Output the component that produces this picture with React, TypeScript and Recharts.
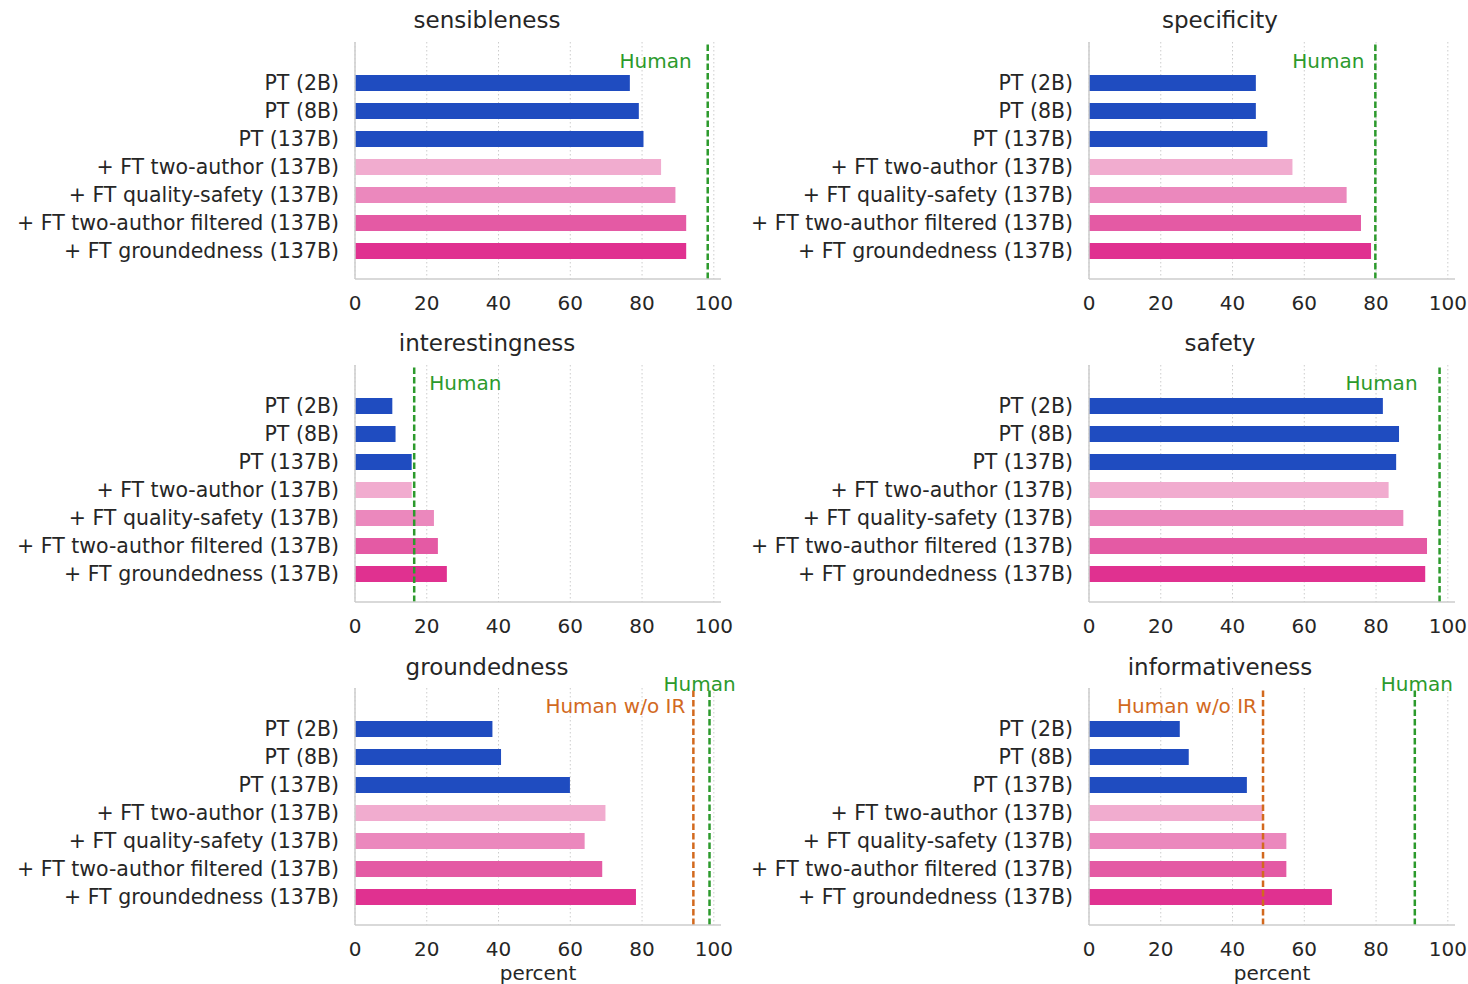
import { Bar, BarChart, CartesianGrid, Cell, ReferenceLine, XAxis, YAxis } from "recharts"

const models = [
  "PT (2B)",
  "PT (8B)",
  "PT (137B)",
  "+ FT two-author (137B)",
  "+ FT quality-safety (137B)",
  "+ FT two-author filtered (137B)",
  "+ FT groundedness (137B)",
]

const sensibleness = [76.6, 79.1, 80.4, 85.3, 89.3, 92.3, 92.3]
const specificity = [46.5, 46.5, 49.7, 56.7, 71.8, 75.8, 78.6]
const interestingness = [10.4, 11.3, 15.8, 15.8, 22.0, 23.1, 25.6]
const safety = [81.9, 86.4, 85.6, 83.5, 87.6, 94.2, 93.7]
const groundedness = [38.3, 40.7, 59.9, 69.8, 64.0, 68.9, 78.3]
const informativeness = [25.3, 27.8, 44.0, 48.4, 55.0, 55.0, 67.7]

const metricNames = ["sensibleness", "specificity", "interestingness", "safety", "groundedness", "informativeness"]
const metricValues = [sensibleness, specificity, interestingness, safety, groundedness, informativeness]
const humanScores = [98.3, 79.8, 16.5, 97.7, 98.8, 90.8]
const humanWithoutIR: (number | null)[] = [null, null, null, null, 94.3, 48.5]
const xTicks = [0, 20, 40, 60, 80, 100]
const X_MAX = 102

const barColors = ["#1f4cc0", "#1f4cc0", "#1f4cc0", "#f1accf", "#eb88bd", "#e45aa4", "#e03190"]
const FONT = "DejaVu Sans"
const TEXT = "#262626"
const GREEN = "#2c9a2c"
const ORANGE = "#d2691e"

type LabelPos = { anchor: "start" | "middle" | "end"; dx: number; dy: number }

// chart boxes and label placement, one per panel
const panels: {
  left: number
  top: number
  width: number
  right: number
  titleX: number
  titleY: number
  human: LabelPos
  noIR?: LabelPos
}[] = [
  { left: 0, top: 12, width: 740, right: 19, titleX: 487, titleY: 20, human: { anchor: "end", dx: -16, dy: 19 } },
  { left: 734, top: 12, width: 734, right: 13, titleX: 1220, titleY: 20, human: { anchor: "end", dx: -11, dy: 19 } },
  { left: 0, top: 335, width: 740, right: 19, titleX: 487, titleY: 343, human: { anchor: "start", dx: 15, dy: 18 } },
  { left: 734, top: 335, width: 734, right: 13, titleX: 1220, titleY: 343, human: { anchor: "end", dx: -22, dy: 18 } },
  {
    left: 0, top: 658, width: 740, right: 19, titleX: 487, titleY: 667,
    human: { anchor: "middle", dx: -10, dy: -4 }, noIR: { anchor: "end", dx: -8, dy: 18 },
  },
  {
    left: 734, top: 658, width: 734, right: 13, titleX: 1220, titleY: 667,
    human: { anchor: "middle", dx: 2, dy: -4 }, noIR: { anchor: "end", dx: -6, dy: 18 },
  },
]

const lineLabel = (text: string, color: string, pos: LabelPos) => (props: any) => {
  const { x, y } = props.viewBox
  return (
    <text
      x={x + pos.dx}
      y={y + pos.dy}
      textAnchor={pos.anchor}
      dominantBaseline="central"
      fill={color}
      fontSize={20}
      fontFamily={FONT}
    >
      {text}
    </text>
  )
}

const percentLabel = (props: any) => {
  const { x, y, width } = props.viewBox
  return (
    <text x={x + width / 2} y={y + 48} textAnchor="middle" dominantBaseline="central" fill={TEXT} fontSize={20} fontFamily={FONT}>
      percent
    </text>
  )
}

// grid only at the tick values (skip the plot's right edge)
const gridAtTicks = (props: any) => {
  const scale = props.xAxis?.scale
  return xTicks.map((t) =>
    typeof scale === "function" ? scale(t) : props.offset.left + (t / X_MAX) * props.offset.width
  )
}

const Panel = ({ idx }: { idx: number }) => {
  const p = panels[idx]
  const values = metricValues[idx]
  const data = models.map((name, i) => ({ name, value: values[i] }))
  const noIR = humanWithoutIR[idx]
  const bottomRow = idx >= 4

  return (
    <div style={{ position: "absolute", left: p.left, top: p.top }}>
      <BarChart
        width={p.width}
        height={327}
        data={data}
        layout="vertical"
        margin={{ top: 30, right: p.right, bottom: 0, left: 0 }}
      >
        <CartesianGrid
          horizontal={false}
          stroke="#cccccc"
          strokeDasharray="1.5 2.5"
          verticalCoordinatesGenerator={gridAtTicks}
        />
        <XAxis
          type="number"
          domain={[0, X_MAX]}
          ticks={xTicks}
          interval={0}
          height={60}
          tickLine={false}
          tickSize={0}
          tickMargin={17}
          axisLine={{ stroke: "#cccccc", strokeWidth: 1.5 }}
          tick={{ fill: TEXT, fontSize: 20, fontFamily: FONT }}
          label={bottomRow ? percentLabel : undefined}
        />
        <YAxis
          type="category"
          dataKey="name"
          width={355}
          interval={0}
          tickLine={false}
          tickSize={0}
          tickMargin={16}
          padding={{ top: 27, bottom: 14 }}
          axisLine={{ stroke: "#cccccc", strokeWidth: 1.5 }}
          tick={{ fill: TEXT, fontSize: 20.5, fontFamily: FONT }}
        />
        <Bar dataKey="value" barSize={16} isAnimationActive={false}>
          {data.map((_, i) => (
            <Cell key={i} fill={barColors[i]} />
          ))}
        </Bar>
        {noIR !== null && p.noIR && (
          <ReferenceLine
            x={noIR}
            stroke={ORANGE}
            strokeWidth={2.5}
            strokeDasharray="6.5 3"
            label={lineLabel("Human w/o IR", ORANGE, p.noIR)}
          />
        )}
        <ReferenceLine
          x={humanScores[idx]}
          stroke={GREEN}
          strokeWidth={2.5}
          strokeDasharray="6.5 3"
          label={lineLabel("Human", GREEN, p.human)}
        />
      </BarChart>
    </div>
  )
}

const App = () => {
  return (
    <div style={{ position: "absolute", left: 0, top: 0, width: 1468, height: 984, background: "#fff", fontFamily: FONT }}>
      {metricNames.map((name, i) => (
        <Panel key={name} idx={i} />
      ))}
      {metricNames.map((name, i) => (
        <div
          key={"t" + name}
          style={{
            position: "absolute",
            left: panels[i].titleX - 200,
            top: panels[i].titleY - 13,
            width: 400,
            lineHeight: "26px",
            textAlign: "center",
            fontSize: 23,
            color: TEXT,
          }}
        >
          {name}
        </div>
      ))}
    </div>
  )
}

export default App
